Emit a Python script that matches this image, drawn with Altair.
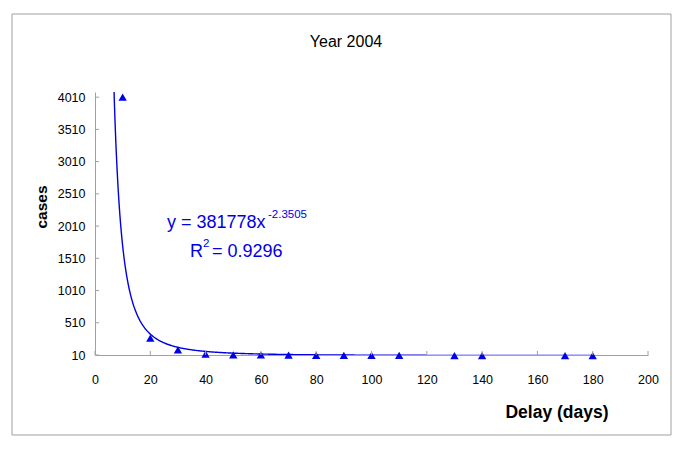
import altair as alt
import pandas as pd

# ---- data ----
delay_days = [10, 20, 30, 40, 50, 60, 70, 80, 90, 100, 110, 130, 140, 170, 180]
cases = [4010, 270, 90, 25, 12, 10, 8, 5, 4, 3, 3, 2, 2, 1, 1]
y_ticks = [10, 510, 1010, 1510, 2010, 2510, 3010, 3510, 4010]
x_ticks = [0, 20, 40, 60, 80, 100, 120, 140, 160, 180, 200]
coef_a = 381778
coef_b = -2.3505
r_squared = "0.9296"
chart_title = "Year 2004"
x_title = "Delay (days)"
y_title = "cases"

BLUE = "#0000E6"
GRAY = "#A0A0A0"
FONT = "Liberation Sans"
W, H = 553, 263

xs = alt.Scale(domain=[0, 200], nice=False, zero=False)
ys = alt.Scale(domain=[10, 4090], nice=False, zero=False)

x_axis = alt.Axis(values=x_ticks, tickCount=len(x_ticks) + 5, tickSize=0,
                  labelPadding=18, grid=False, domainColor=GRAY, labelFont=FONT,
                  labelFontSize=12.5, labelColor="black", format="d", title=None,
                  labelOverlap=False, labelFlush=False)
y_axis = alt.Axis(values=y_ticks, tickCount=len(y_ticks) + 5, tickSize=0,
                  labelPadding=10, grid=False, domainColor=GRAY, labelFont=FONT,
                  labelFontSize=12.5, labelColor="black", format="d", title=None,
                  labelOverlap=False, labelFlush=False)

pts = pd.DataFrame({"delay": delay_days, "cases": cases})
one = pd.DataFrame({"k": [0]})

points = alt.Chart(pts).mark_point(
    shape="triangle-up", filled=True, size=70, color=BLUE, opacity=1
).encode(
    x=alt.X("delay:Q", scale=xs, title=None, axis=x_axis),
    y=alt.Y("cases:Q", scale=ys, title=None, axis=y_axis),
)

trend = alt.Chart(alt.sequence(6.5, 180.25, 0.25, as_="d")).transform_calculate(
    c=f"{coef_a} * pow(datum.d, {coef_b})"
).mark_line(clip=True, color=BLUE, strokeWidth=1.4).encode(
    x=alt.X("d:Q", scale=xs, title=None),
    y=alt.Y("c:Q", scale=ys, title=None),
)

yt = alt.Chart(pd.DataFrame({"v": y_ticks})).mark_rule(color=GRAY).encode(
    y=alt.Y("v:Q", scale=ys, title=None), x=alt.value(0), x2=alt.value(4)
)
xt = alt.Chart(pd.DataFrame({"v": x_ticks})).mark_rule(color=GRAY).encode(
    x=alt.X("v:Q", scale=xs, title=None), y=alt.value(H), y2=alt.value(H - 4)
)

frame = alt.Chart(one).mark_rect(fillOpacity=0, stroke=GRAY, strokeWidth=1).encode(
    x=alt.value(-83), x2=alt.value(576), y=alt.value(-78), y2=alt.value(343)
)


def label(text, x, y, size, color="black", weight="normal", align="left",
          baseline="alphabetic", angle=0):
    kw = dict(text=text, fontSize=size, color=color, fontWeight=weight,
              align=align, baseline=baseline, font=FONT)
    if angle:
        kw["angle"] = angle
    return alt.Chart(one).mark_text(**kw).encode(x=alt.value(x), y=alt.value(y))


texts = [
    label(chart_title, 251, -50, 16, align="center", baseline="middle"),
    label(y_title, -53, 115, 15.5, weight="bold", align="center", baseline="middle", angle=270),
    label(x_title, 462, 321, 17.5, weight="bold", align="center", baseline="middle"),
    label("y = " + str(coef_a) + "x", 72, 136, 18, color=BLUE),
    label(str(coef_b), 173, 126, 11.5, color=BLUE),
    label("R", 95, 165, 18, color=BLUE),
    label("2", 108, 155, 11.5, color=BLUE),
    label("= " + r_squared, 117, 165, 18, color=BLUE),
]

chart = alt.layer(points, trend, yt, xt, frame, *texts).properties(
    width=W, height=H,
    padding={"left": 87, "top": 84, "right": 26, "bottom": 82},
    autosize="none",
    background="white",
).configure_view(strokeWidth=0)

chart.save("out.html", embed_options={"renderer": "svg", "actions": False})
